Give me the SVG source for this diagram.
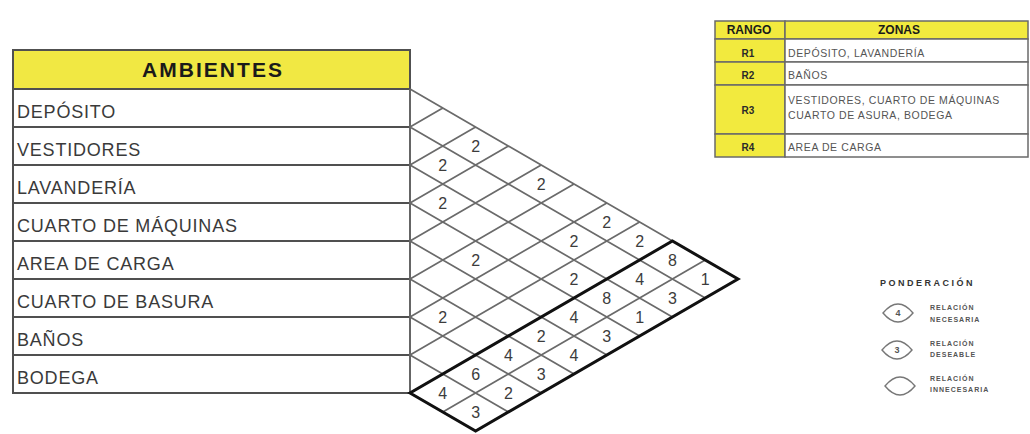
<svg xmlns="http://www.w3.org/2000/svg" width="1030" height="434" viewBox="0 0 1030 434">
<style>
.cell{fill:#ffffff;stroke:#505050;stroke-width:2}
.hdr{fill:#f1e843;stroke:#505050;stroke-width:2}
.rt{font-family:"Liberation Sans",Arial,sans-serif;font-size:18px;fill:#3a3a3a;letter-spacing:0.8px}
.ht{font-family:"Liberation Sans",Arial,sans-serif;font-size:21px;font-weight:bold;fill:#1a1a1a;text-anchor:middle}
.grid{fill:none;stroke:#6a6a6a;stroke-width:1.7}
.thick{fill:none;stroke:#111111;stroke-width:3;stroke-linejoin:miter}
.num{font-family:"Liberation Sans",Arial,sans-serif;font-size:16px;fill:#3c3c3c;text-anchor:middle}
.ycell{fill:#f2ea3e;stroke:#6a6a6a;stroke-width:1.5}
.wcell{fill:#ffffff;stroke:#6a6a6a;stroke-width:1.5}
.th{font-family:"Liberation Sans",Arial,sans-serif;font-size:12px;font-weight:bold;fill:#1a1a1a;text-anchor:middle}
.rk{font-family:"Liberation Sans",Arial,sans-serif;font-size:10px;font-weight:bold;fill:#2a2a2a;text-anchor:middle}
.zt{font-family:"Liberation Sans",Arial,sans-serif;font-size:10.5px;fill:#555555;letter-spacing:0.6px}
.lg{font-family:"Liberation Sans",Arial,sans-serif;font-size:7px;font-weight:bold;fill:#555555;letter-spacing:1px}
.lgs{fill:#ffffff;stroke:#777777;stroke-width:1.4}
</style>
<rect width="1030" height="434" fill="#ffffff"/>

<!-- Ambientes table -->
<g id="hdr-ambientes">
<rect class="hdr" x="13" y="50" width="397" height="39"/>
<text class="ht" x="212" y="77" textLength="140" lengthAdjust="spacing">AMBIENTES</text>
</g>
<g id="row-deposito"><rect class="cell" x="13" y="89" width="397" height="38"/><text class="rt" x="17" y="118">DEPÓSITO</text></g>
<g id="row-vestidores"><rect class="cell" x="13" y="127" width="397" height="38"/><text class="rt" x="17" y="156">VESTIDORES</text></g>
<g id="row-lavanderia"><rect class="cell" x="13" y="165" width="397" height="38"/><text class="rt" x="17" y="194">LAVANDERÍA</text></g>
<g id="row-maquinas"><rect class="cell" x="13" y="203" width="397" height="38"/><text class="rt" x="17" y="232">CUARTO DE MÁQUINAS</text></g>
<g id="row-carga"><rect class="cell" x="13" y="241" width="397" height="38"/><text class="rt" x="17" y="270">AREA DE CARGA</text></g>
<g id="row-basura"><rect class="cell" x="13" y="279" width="397" height="38"/><text class="rt" x="17" y="308">CUARTO DE BASURA</text></g>
<g id="row-banos"><rect class="cell" x="13" y="317" width="397" height="38"/><text class="rt" x="17" y="346">BAÑOS</text></g>
<g id="row-bodega"><rect class="cell" x="13" y="355" width="397" height="38"/><text class="rt" x="17" y="384">BODEGA</text></g>

<!-- Matrix lattice -->
<g id="connectors">
<path class="grid" d="M410,89 L738,279 M410,127 L705.2,298 M410,165 L672.4,317 M410,203 L639.6,336 M410,241 L606.8,355 M410,279 L574,374 M410,317 L541.2,393 M410,355 L508.4,412 M410,393 L475.6,431
M410,127 L442.8,108 M410,165 L475.6,127 M410,203 L508.4,146 M410,241 L541.2,165 M410,279 L574,184 M410,317 L606.8,203 M410,355 L639.6,222 M410,393 L672.4,241 M442.8,412 L705.2,260 M475.6,431 L738,279
M410,89 L410,393"/>
<path class="thick" d="M410,393 L475.6,431 L738,279 L672.4,241 Z"/>
</g>

<g id="matrix-values">
<text class="num" x="475.6" y="152">2</text>
<text class="num" x="442.8" y="171">2</text>
<text class="num" x="541.2" y="190">2</text>
<text class="num" x="442.8" y="209">2</text>
<text class="num" x="606.8" y="228">2</text>
<text class="num" x="574" y="247">2</text>
<text class="num" x="639.6" y="247">2</text>
<text class="num" x="475.6" y="266">2</text>
<text class="num" x="574" y="285">2</text>
<text class="num" x="442.8" y="323">2</text>
<text class="num" x="672.4" y="266">8</text>
<text class="num" x="639.6" y="285">4</text>
<text class="num" x="705.2" y="285">1</text>
<text class="num" x="606.8" y="304">8</text>
<text class="num" x="672.4" y="304">3</text>
<text class="num" x="574" y="323">4</text>
<text class="num" x="639.6" y="323">1</text>
<text class="num" x="541.2" y="342">2</text>
<text class="num" x="606.8" y="342">3</text>
<text class="num" x="508.4" y="361">4</text>
<text class="num" x="574" y="361">4</text>
<text class="num" x="475.6" y="380">6</text>
<text class="num" x="541.2" y="380">3</text>
<text class="num" x="442.8" y="399">4</text>
<text class="num" x="508.4" y="399">2</text>
<text class="num" x="475.6" y="418">3</text>
</g>

<!-- Rango table -->
<g id="tbl-header">
<rect class="ycell" x="715" y="21" width="70" height="18"/>
<rect class="ycell" x="785" y="21" width="243" height="18"/>
<text class="th" x="749" y="34">RANGO</text>
<text class="th" x="899" y="34">ZONAS</text>
</g>
<g id="tbl-r1">
<rect class="ycell" x="715" y="39" width="70" height="23"/>
<rect class="wcell" x="785" y="39" width="243" height="23"/>
<text class="rk" x="748" y="57">R1</text>
<text class="zt" x="788" y="57">DEPÓSITO, LAVANDERÍA</text>
</g>
<g id="tbl-r2">
<rect class="ycell" x="715" y="62" width="70" height="23"/>
<rect class="wcell" x="785" y="62" width="243" height="23"/>
<text class="rk" x="748" y="79">R2</text>
<text class="zt" x="788" y="79">BAÑOS</text>
</g>
<g id="tbl-r3">
<rect class="ycell" x="715" y="85" width="70" height="49"/>
<rect class="wcell" x="785" y="85" width="243" height="49"/>
<text class="rk" x="748" y="114">R3</text>
<text class="zt" x="788" y="104">VESTIDORES, CUARTO DE MÁQUINAS</text>
<text class="zt" x="788" y="119">CUARTO DE ASURA, BODEGA</text>
</g>
<g id="tbl-r4">
<rect class="ycell" x="715" y="134" width="70" height="23"/>
<rect class="wcell" x="785" y="134" width="243" height="23"/>
<text class="rk" x="748" y="151">R4</text>
<text class="zt" x="788" y="151">AREA DE CARGA</text>
</g>

<!-- Legend -->
<g id="legend">
<text class="lg" x="880" y="286" style="font-size:9px;fill:#333333;letter-spacing:2.5px">PONDERACIÓN</text>
<path class="lgs" d="M883,313 Q898,295 913,313 Q898,331 883,313 Z"/>
<text class="lg" x="898" y="316" text-anchor="middle" style="font-size:9px;letter-spacing:0">4</text>
<text class="lg" x="930" y="310">RELACIÓN</text>
<text class="lg" x="930" y="322">NECESARIA</text>
<path class="lgs" d="M882,350 Q897,332 912,350 Q897,368 882,350 Z"/>
<text class="lg" x="897" y="353" text-anchor="middle" style="font-size:9px;letter-spacing:0">3</text>
<text class="lg" x="930" y="346">RELACIÓN</text>
<text class="lg" x="930" y="357">DESEABLE</text>
<path class="lgs" d="M885,386 Q900,368 915,386 Q900,404 885,386 Z"/>
<text class="lg" x="930" y="381">RELACIÓN</text>
<text class="lg" x="930" y="392">INNECESARIA</text>
</g>
</svg>
